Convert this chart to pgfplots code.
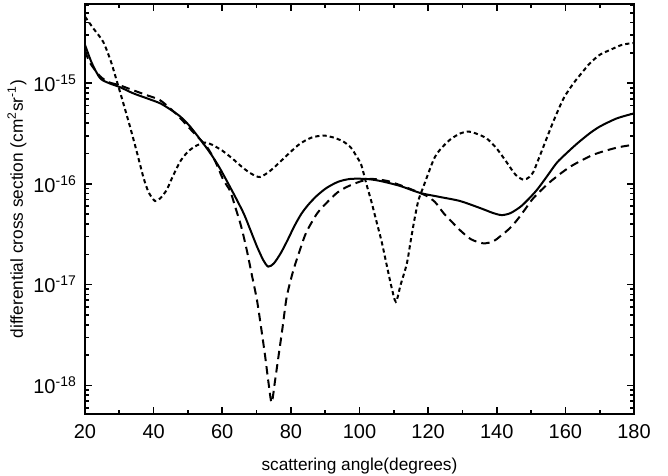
\documentclass[border=0pt]{standalone}
\usepackage{pgfplots}
\pgfplotsset{compat=1.18}
\usepackage{fontspec}
\setmainfont{Liberation Sans}
\begin{document}
\begin{tikzpicture}[x=1pt,y=1pt]
\begin{axis}[
  scale only axis,
  width=301.95pt, height=225.5pt,
  at={(0,0)}, anchor=south west,
  xmin=20, xmax=180,
  ymode=log, log basis y=10,
  ymin=5.2e-19, ymax=6.1e-15,
  xtick={20,40,...,180},
  minor x tick num=1,
  ytick={1e-18,1e-17,1e-16,1e-15},
  minor ytick={6e-19,7e-19,8e-19,9e-19,
    2e-18,3e-18,4e-18,5e-18,6e-18,7e-18,8e-18,9e-18,
    2e-17,3e-17,4e-17,5e-17,6e-17,7e-17,8e-17,9e-17,
    2e-16,3e-16,4e-16,5e-16,6e-16,7e-16,8e-16,9e-16,
    2e-15,3e-15,4e-15,5e-15,6e-15},
  tick align=inside,
  major tick length=3.6pt,
  minor tick length=2pt,
  axis line style={line width=1.1pt},
  every tick/.style={line width=0.9pt, black},
  /pgf/number format/assume math mode=true,
  tick label style={font=\fontsize{11}{13}\selectfont},
  yticklabel={\pgfmathparse{int(round(\tick))}10\textsuperscript{\pgfmathresult}},
  xticklabel style={yshift=-2pt},
  yticklabel style={xshift=-1pt},
  xlabel={scattering angle(degrees)},
  ylabel={differential cross section (cm\textsuperscript{2}sr\textsuperscript{-1})},
  label style={font=\fontsize{9.5}{11}\selectfont},
  xlabel style={yshift=-4pt},
  ylabel style={yshift=-3pt},
  every axis plot/.style={black, smooth, tension=0.45},
]
% solid
\addplot[line width=1.1pt] coordinates {
(20,2.40e-15)(22,1.58e-15)(24.4,1.12e-15)(27,1.00e-15)(30.2,9.12e-16)(34,7.94e-16)
(38,7.08e-16)(41.9,6.31e-16)(44.8,5.50e-16)(47.7,4.68e-16)(50.6,3.72e-16)(54.5,2.51e-16)
(57,1.91e-16)(59.4,1.41e-16)(63.2,8.13e-17)(66.2,5.13e-17)(68,3.63e-17)(70.1,2.40e-17)
(72,1.74e-17)(73.4,1.51e-17)(75,1.62e-17)(77,2.04e-17)(79,2.75e-17)(81,3.80e-17)
(83,5.01e-17)(85,6.17e-17)(87.5,7.59e-17)(90.4,9.12e-17)(93.8,1.05e-16)(97.3,1.12e-16)(102,1.12e-16)
(106,1.07e-16)(111.8,9.55e-17)(117.7,8.13e-17)(123.5,7.41e-17)(129.3,6.76e-17)(135.2,5.75e-17)
(139,5.13e-17)(141.5,4.90e-17)(144,5.13e-17)(146.8,5.89e-17)(149,6.92e-17)(151.7,8.71e-17)
(154.5,1.17e-16)(157.5,1.62e-16)(160.5,2.04e-16)(163.4,2.51e-16)(167,3.16e-16)(170.1,3.72e-16)
(175,4.47e-16)(180,5.01e-16)
};
% long dashed
\addplot[line width=1.1pt, dash pattern=on 4.6pt off 2.8pt] coordinates {
(20,2.09e-15)(21.5,1.58e-15)(24.4,1.17e-15)(27,1.02e-15)(30,9.55e-16)(34,8.51e-16)
(38,7.59e-16)(41.9,6.76e-16)(46.7,4.90e-16)(51.6,3.24e-16)(55.5,2.34e-16)(58,1.66e-16)
(60.3,1.10e-16)(62.3,8.51e-17)(63.7,6.03e-17)(65.5,3.80e-17)(67.1,2.24e-17)(68.6,1.26e-17)
(70.1,7.08e-18)(71.3,3.80e-18)(72.5,1.95e-18)(73.5,1.05e-18)(74.4,6.76e-19)(75.4,1.12e-18)
(76.4,1.95e-18)(77.6,3.80e-18)(78.8,7.59e-18)(80.7,1.38e-17)(82.7,2.24e-17)(84.5,3.31e-17)
(87.5,5.01e-17)(89.5,6.03e-17)(93.4,8.13e-17)(96.3,9.33e-17)(100,1.05e-16)(103.1,1.12e-16)
(106,1.10e-16)(109,1.05e-16)(114.8,8.91e-17)(119.6,7.59e-17)(122,6.61e-17)(124.5,5.13e-17)
(127,4.17e-17)(129.3,3.47e-17)(132.5,2.82e-17)(136.1,2.57e-17)(139,2.69e-17)(141,3.02e-17)
(143.5,3.55e-17)(145.9,4.37e-17)(148.3,5.62e-17)(150.7,7.24e-17)(155.6,1.05e-16)(161.4,1.48e-16)
(168.2,1.95e-16)(175,2.29e-16)(180,2.45e-16)
};
% short dashed
\addplot[line width=1.1pt, dash pattern=on 2.3pt off 1.7pt] coordinates {
(20,4.57e-15)(22.5,3.47e-15)(25.3,2.57e-15)(27.5,1.66e-15)(29.2,1.07e-15)(31,6.61e-16)
(33.1,3.72e-16)(35,2.14e-16)(37,1.17e-16)(38.5,8.32e-17)(40.4,6.76e-17)(42,7.24e-17)
(43.8,8.71e-17)(45.5,1.17e-16)(47.7,1.66e-16)(50,2.09e-16)(52.5,2.40e-16)(55,2.57e-16)
(57,2.45e-16)(60,2.14e-16)(63,1.78e-16)(66,1.45e-16)(68.5,1.26e-16)(71,1.17e-16)
(74,1.35e-16)(76.9,1.66e-16)(80,2.09e-16)(82.7,2.51e-16)(86,2.88e-16)(89.5,3.02e-16)
(92.5,2.88e-16)(95.3,2.63e-16)(97.5,2.29e-16)(99.2,1.86e-16)(100.5,1.55e-16)(102,1.00e-16)
(103.5,6.61e-17)(105,4.17e-17)(106.5,2.63e-17)(107.9,1.58e-17)(109.3,9.55e-18)(110.6,6.76e-18)
(112,1.00e-17)(113.8,1.62e-17)(115,2.82e-17)(116.2,4.79e-17)(117.2,6.92e-17)(118.6,9.33e-17)
(121.6,1.74e-16)(123.5,2.19e-16)(126.4,2.75e-16)(129.3,3.16e-16)(131.8,3.31e-16)(134,3.16e-16)
(137.1,2.82e-16)(140,2.24e-16)(143,1.62e-16)(145.5,1.23e-16)(147.8,1.10e-16)(149.5,1.17e-16)
(150.7,1.32e-16)(152,1.70e-16)(153.6,2.34e-16)(156.5,4.17e-16)(159.5,7.08e-16)(162.4,1.00e-15)
(165,1.29e-15)(167.2,1.58e-15)(170,1.91e-15)(173.1,2.14e-15)(176.5,2.40e-15)(180,2.51e-15)
};
\end{axis}
\pgfresetboundingbox
\path[use as bounding box] (-85*0.55,-62*0.55) rectangle (583*0.55,414*0.55);
\end{tikzpicture}
\end{document}
